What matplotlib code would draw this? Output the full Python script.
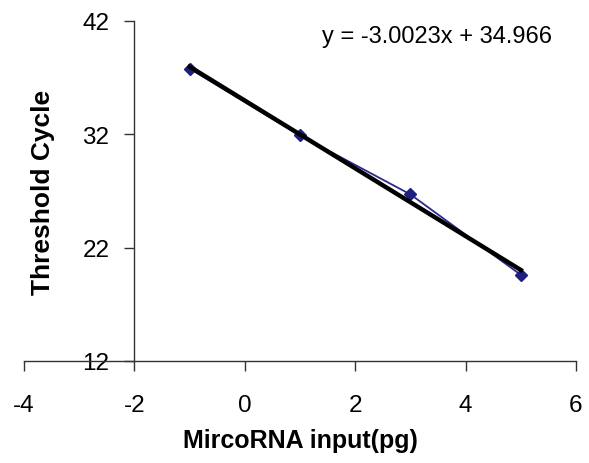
import numpy as np
import matplotlib.pyplot as plt

plt.rcParams['font.family'] = ['Liberation Sans', 'DejaVu Sans']
plt.rcParams['axes.unicode_minus'] = False

# valores
entrada_pg = [-1, 1, 3, 5]
ciclo_limiar = [37.8, 31.9, 26.7, 19.6]
x_ticks = [-4, -2, 0, 2, 4, 6]
y_ticks = [12, 22, 32, 42]
equacao = "y = -3.0023x + 34.966"

fig = plt.figure(figsize=(5.89, 4.64), dpi=100)
ax = fig.add_axes([24 / 589, 1 - 362 / 464, 552 / 589, 340 / 464])

# série medida
ax.plot(entrada_pg, ciclo_limiar, color='#2a2a90', linewidth=1.3,
        marker='D', markersize=6, markerfacecolor='#1f1f80',
        markeredgecolor='#1f1f80', zorder=2)

# linha de tendência (regressão linear)
coef = np.polyfit(entrada_pg, ciclo_limiar, 1)
xs = np.array([entrada_pg[0], entrada_pg[-1]])
ax.plot(xs, np.polyval(coef, xs), color='black', linewidth=3.2, zorder=3)

ax.set_xlim(-4, 6)
ax.set_ylim(12, 42)
ax.set_xticks(x_ticks)
ax.set_yticks(y_ticks)

ax.spines['top'].set_visible(False)
ax.spines['right'].set_visible(False)
ax.spines['left'].set_position(('data', -2))
for s in ('left', 'bottom'):
    ax.spines[s].set_linewidth(1.0)
    ax.spines[s].set_color('#333333')

ax.tick_params(axis='x', direction='out', length=7, width=1.0,
               color='#333333', labelsize=17.5, pad=17)
ax.tick_params(axis='y', direction='out', length=7, width=1.0,
               color='#333333', labelsize=17.5, pad=11)

ax.set_xlabel("MircoRNA input(pg)", fontsize=18, fontweight='bold')
ax.xaxis.set_label_coords(0.5, (362 - 429) / 340)
ax.set_ylabel("Threshold Cycle", fontsize=19, fontweight='bold')
ax.yaxis.set_label_coords((55 - 24) / 552, 0.5)

ax.text(437 / 589, 1 - 37 / 464, equacao, transform=fig.transFigure,
        fontsize=17, ha='center', va='center')

fig.savefig('out.png', dpi=100)
